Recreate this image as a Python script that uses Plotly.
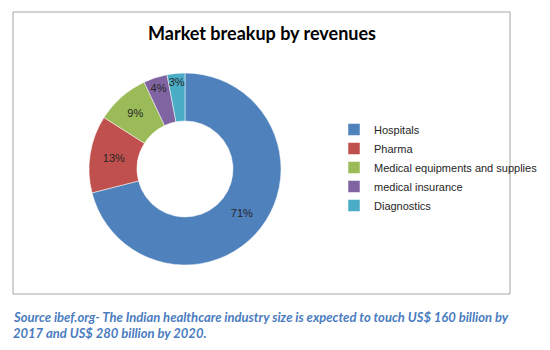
import plotly.graph_objects as go

W, H = 550, 350

categories = ["Hospitals", "Pharma", "Medical equipments and supplies", "medical insurance", "Diagnostics"]
values = [71, 13, 9, 4, 3]
colors = ["#4F81BD", "#C0504D", "#9BBB59", "#8064A2", "#4BACC6"]
title_text = "Market breakup by revenues"
footer_lines = [
    "Source ibef.org- The Indian healthcare industry size is expected to touch US$ 160 billion by",
    "2017 and US$ 280 billion by 2020.",
]

def px_x(x):
    return x / W

def px_y(y):
    return 1 - y / H

fig = go.Figure(go.Pie(
    labels=categories,
    values=values,
    hole=0.5,
    sort=False,
    direction="clockwise",
    rotation=0,
    marker=dict(colors=colors, line=dict(color="white", width=0.5)),
    texttemplate="%{percent:.0%}",
    textposition="inside",
    insidetextorientation="horizontal",
    textfont=dict(family="Liberation Sans", size=11, color="#262626"),
    domain=dict(x=[px_x(89), px_x(281)], y=[px_y(265), px_y(73)]),
    showlegend=True,
))

fig.update_layout(
    width=W, height=H,
    margin=dict(l=0, r=0, t=0, b=0),
    paper_bgcolor="white",
    plot_bgcolor="white",
    uniformtext=dict(minsize=11, mode="show"),
    legend=dict(
        x=px_x(334), y=px_y(115), xanchor="left", yanchor="top",
        font=dict(family="Liberation Sans", size=11, color="#262626"),
        itemwidth=30, tracegroupgap=0,
        bgcolor="rgba(0,0,0,0)",
    ),
    shapes=[dict(
        type="rect", xref="paper", yref="paper",
        x0=px_x(13), x1=px_x(510), y0=px_y(294), y1=px_y(12),
        line=dict(color="#A6A6A6", width=1), fillcolor="rgba(0,0,0,0)",
    )],
    annotations=[
        dict(text="<b>" + title_text + "</b>", x=px_x(262), y=px_y(33),
             xref="paper", yref="paper", xanchor="center", yanchor="middle",
             showarrow=False, font=dict(family="Lato", size=18, color="black")),
        dict(text="<b><i>" + footer_lines[0] + "</i></b>", x=px_x(11), y=px_y(317),
             xref="paper", yref="paper", xanchor="left", yanchor="middle",
             showarrow=False, font=dict(family="Lato", size=13, color="#4A7CC0")),
        dict(text="<b><i>" + footer_lines[1] + "</i></b>", x=px_x(11), y=px_y(333),
             xref="paper", yref="paper", xanchor="left", yanchor="middle",
             showarrow=False, font=dict(family="Lato", size=13, color="#4A7CC0")),
    ],
)

fig.write_html("out.html")
